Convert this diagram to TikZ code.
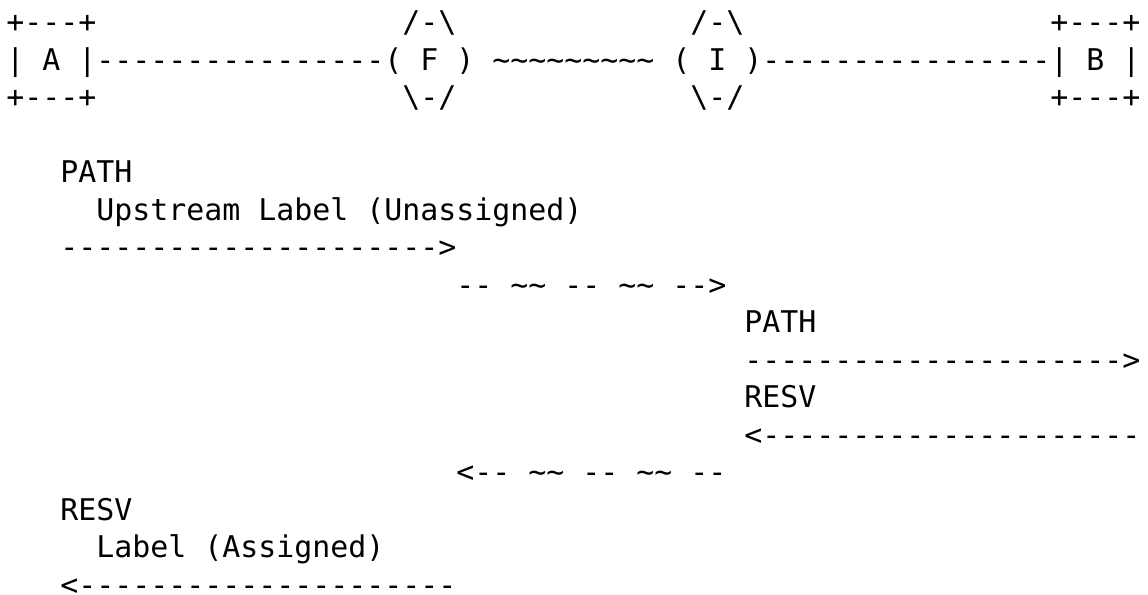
\documentclass[tikz,border=0pt]{standalone}
\usepackage{fontspec}
\setmonofont{DejaVu Sans Mono}
\usetikzlibrary{positioning}
\newcommand{\bsl}{\textbackslash}
\newcommand{\wave}{\textasciitilde}

\begin{document}
\begin{tikzpicture}[x=9pt, y=-18.75pt,
  every node/.style={anchor=base west, inner sep=0pt,
    font=\ttfamily\fontsize{14.95pt}{18pt}\selectfont}]
\useasboundingbox (0pt,0pt) rectangle (574pt,-297.5pt);
\begin{scope}[shift={(3pt,-16.25pt)}]
% nodes A, F, I, B
\node (Atop) at (0,0) {+---+};
\node (Ftop) at (22,0) {/-\bsl};
\node (Itop) at (38,0) {/-\bsl};
\node (Btop) at (58,0) {+---+};
\node (A) at (0,1) {| A |};
\node (AF) at (5,1) {----------------};
\node (F) at (21,1) {( F )};
\node (FI) at (27,1) {\wave\wave\wave\wave\wave\wave\wave\wave\wave};
\node (I) at (37,1) {( I )};
\node (IB) at (42,1) {----------------};
\node (B) at (58,1) {| B |};
\node (Abot) at (0,2) {+---+};
\node (Fbot) at (22,2) {\bsl-/};
\node (Ibot) at (38,2) {\bsl-/};
\node (Bbot) at (58,2) {+---+};
% messages
\node (pathA) at (3,4) {PATH};
\node (upstream) at (5,5) {Upstream Label (Unassigned)};
\node (pathAF) at (3,6) {--------------------->};
\node (pathFI) at (25,7) {-- \wave\wave{} -- \wave\wave{} -->};
\node (pathI) at (41,8) {PATH};
\node (pathIB) at (41,9) {--------------------->};
\node (resvI) at (41,10) {RESV};
\node (resvBI) at (41,11) {<---------------------};
\node (resvIF) at (25,12) {<-- \wave\wave{} -- \wave\wave{} --};
\node (resvA) at (3,13) {RESV};
\node (assigned) at (5,14) {Label (Assigned)};
\node (resvFA) at (3,15) {<---------------------};
\end{scope}
\end{tikzpicture}
\end{document}
